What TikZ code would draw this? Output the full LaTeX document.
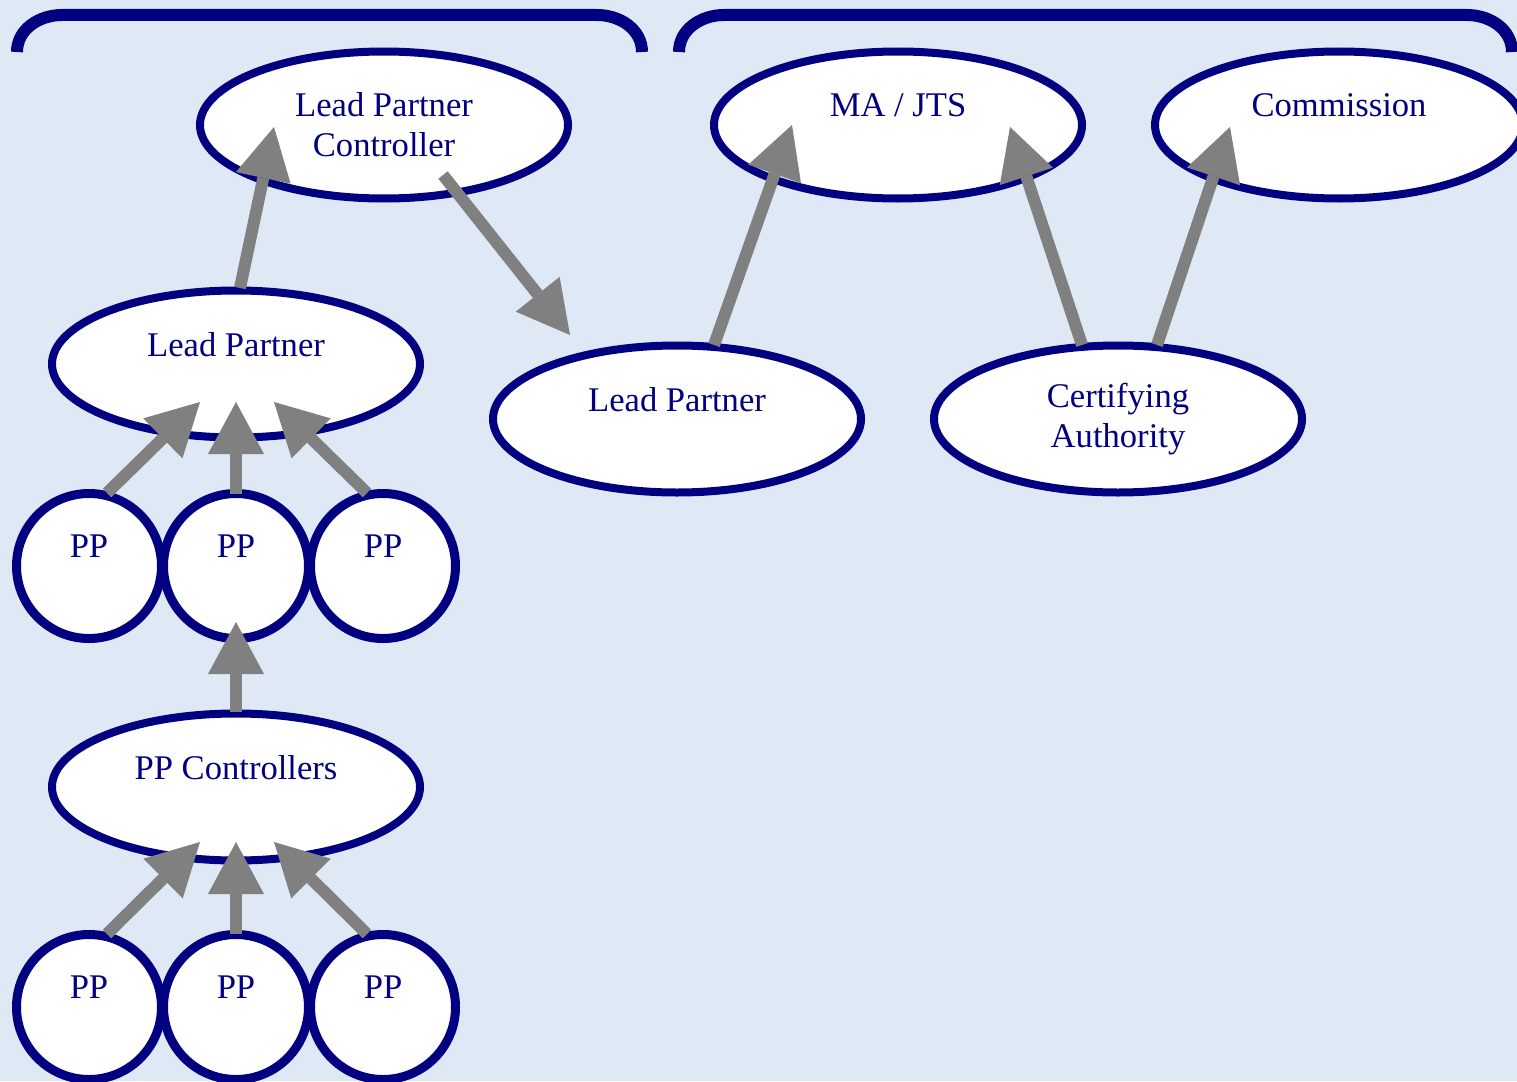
\documentclass[tikz,border=0pt]{standalone}
\usepackage{fontspec}
\setmainfont{Liberation Serif}
\usetikzlibrary{shapes.geometric,arrows.meta,calc}
\definecolor{navyc}{RGB}{0,0,128}
\definecolor{bgc}{RGB}{223,233,246}
\definecolor{arrc}{RGB}{128,128,128}
\begin{document}
\begin{tikzpicture}[x=1pt,y=-1pt,
  every node/.style={font=\fontsize{34.6}{40}\selectfont, text=navyc},
  oval/.style={ellipse, draw=navyc, line width=8pt, fill=white, minimum width=368pt, minimum height=147pt, inner sep=0pt, align=center, execute at begin node={\rule{0pt}{27.6pt}}},
  ppcirc/.style={circle, draw=navyc, line width=9pt, fill=white, minimum size=145pt, inner sep=0pt, align=center, execute at begin node={\rule{0pt}{27.6pt}}},
  brace/.style={draw=navyc, line width=12pt},
  flow/.style={draw=arrc, line width=12pt, -{Triangle[length=52pt,width=56pt,line width=0pt]}}]
\useasboundingbox (0,0) rectangle (1517,1081);
\clip (0,0) rectangle (1517,1081);
\fill[bgc] (0,0) rectangle (1517,1081);
% brackets
\draw[brace] (17,52) to[out=90,in=180] (62,15) -- (597,15) to[out=0,in=90] (642,52);
\draw[brace] (679,52) to[out=90,in=180] (724,15) -- (1467,15) to[out=0,in=90] (1512,52);
% nodes
\node[oval] (lpc) at (384,125) {Lead Partner\\Controller};
\node[oval] (ma) at (898,125) {MA / JTS\\\mbox{}};
\node[oval] (com) at (1339,125) {Commission\\\mbox{}};
\node[oval] (lpl) at (236,364) {Lead Partner\\\mbox{}};
\node[oval] (lpm) at (677,419) {Lead Partner\\\mbox{}};
\node[oval] (ca) at (1118,419) {Certifying\\Authority};
\node[oval] (ppc) at (236,787) {PP Controllers\\\mbox{}};
\node[ppcirc] (pp1) at (89,566) {PP\\\mbox{}};
\node[ppcirc] (pp2) at (236,566) {PP\\\mbox{}};
\node[ppcirc] (pp3) at (383,566) {PP\\\mbox{}};
\node[ppcirc] (qq1) at (89,1007) {PP\\\mbox{}};
\node[ppcirc] (qq2) at (236,1007) {PP\\\mbox{}};
\node[ppcirc] (qq3) at (383,1007) {PP\\\mbox{}};
% arrows
\draw[flow] ($(lpl.center)+(4,-76)$) -- ($(lpc.center)+(-110,2)$);
\draw[flow] ($(lpc.center)+(59,50)$) -- ($(lpm.center)+(-107,-84)$);
\draw[flow] ($(lpm.center)+(37,-74)$) -- ($(ma.center)+(-106,0)$);
\draw[flow] ($(ca.center)+(-36,-74)$) -- ($(ma.center)+(112,2)$);
\draw[flow] ($(ca.center)+(39,-74)$) -- ($(com.center)+(-109,2)$);
\draw[flow] ($(pp1.center)+(18,-73)$) -- ($(lpl.center)+(-36,38)$);
\draw[flow] ($(pp2.center)+(0,-72)$) -- ($(lpl.center)+(0,38)$);
\draw[flow] ($(pp3.center)+(-16,-73)$) -- ($(lpl.center)+(38,38)$);
\draw[flow] ($(ppc.center)+(0,-75)$) -- ($(pp2.center)+(0,56)$);
\draw[flow] ($(qq1.center)+(18,-73)$) -- ($(ppc.center)+(-36,55)$);
\draw[flow] ($(qq2.center)+(0,-73)$) -- ($(ppc.center)+(0,55)$);
\draw[flow] ($(qq3.center)+(-16,-73)$) -- ($(ppc.center)+(38,55)$);
\end{tikzpicture}
\end{document}
